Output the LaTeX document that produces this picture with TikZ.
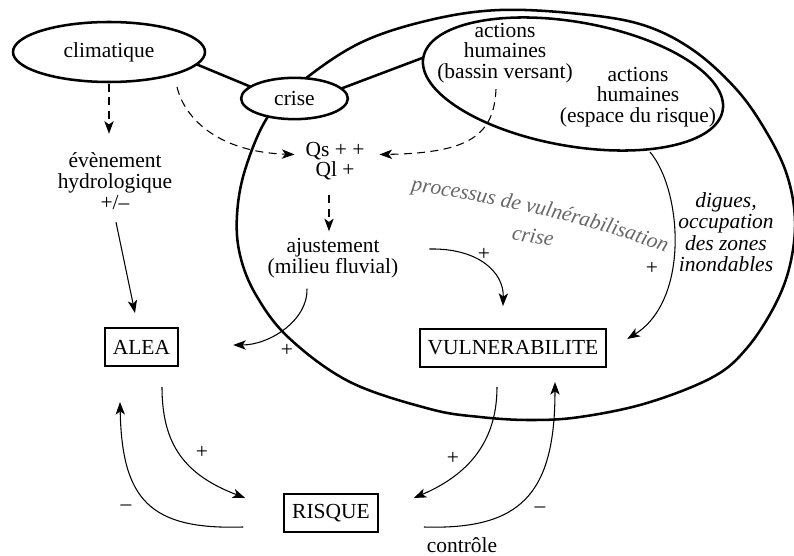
\documentclass[tikz,border=0pt]{standalone}
\usepackage{fontspec}
\setmainfont{Liberation Serif}
\usetikzlibrary{arrows.meta,shapes.geometric,calc,decorations.text}
\begin{document}
\begin{tikzpicture}[x=0.75pt,y=-0.75pt,
  every node/.style={font=\fontsize{16.1}{15.5}\selectfont, inner sep=0pt, outer sep=0pt},
  txt/.style={align=center},
  oval/.style={draw, ellipse, line width=1.9pt, inner sep=0pt},
  boxnode/.style={draw, line width=1.5pt, inner xsep=6pt, minimum height=28.5pt},
  thickline/.style={line width=1.9pt},
  arr/.style={line width=0.8pt, -{Stealth[length=9.5pt,width=7pt,inset=2.5pt]}},
  dasharr/.style={arr, dash pattern=on 6pt off 4pt},
  greytxt/.style={text=black!60, font=\fontsize{16.1}{15.5}\selectfont\itshape}
]
\useasboundingbox (0,0) rectangle (794,556);
% outer region
\draw[line width=1.9pt] plot[smooth cycle, tension=0.6] coordinates {
 (500,10) (580,14) (643,25) (693,50) (737,90) (767,133) (787,175) (795,220)
 (790,265) (775,305) (747,348) (713,377) (647,403) (580,417) (530,420) (480,417)
 (430,409) (350,382) (289,338) (256,295) (240,255) (237,215) (245,170) (267,118)
 (300,83) (360,43) (430,20)};
% nodes
\node[oval, minimum width=144pt, minimum height=45pt] (clim) at (109,52) {climatique};
\node[oval, fill=white, minimum width=80pt, minimum height=31pt] (crise) at (294.5,98.5) {crise};
\node[oval, minimum width=228pt, minimum height=93pt, rotate=-10] (inner) at (573,84) {};
\node[txt] (ah1) at (505,53) {actions\\humaines\\(bassin versant)};
\node[txt] (ah2) at (638,97) {actions\\humaines\\(espace du risque)};
\node[txt] (ev) at (115,181) {évènement\\hydrologique\\+/–};
\node[txt] (qs) at (335,161) {Qs + +\\Ql +};
\node[txt] (aj) at (333,258) {ajustement\\(milieu fluvial)};
\node[txt, font=\fontsize{16.1}{16.1}\selectfont\itshape] (dig) at (726,232) {digues,\\occupation\\des zones\\inondables};
\node[boxnode, minimum width=55pt] (alea) at (141.5,347) {ALEA};
\node[boxnode, minimum width=136.5pt] (vuln) at (513,348) {VULNERABILITE};
\node[boxnode, minimum width=67.5pt] (risque) at (331,513.5) {RISQUE};
\node (ctrl) at (462,545) {contrôle};
\node[greytxt, rotate=-9] (crise2) at (533,236) {crise};
\path[decorate, decoration={text along path, text align=center,
  text={|\fontsize{16.1}{15.5}\selectfont\itshape\color{black!60}|processus de vulnérabilisation}}]
  (404,190) .. controls (480,200) and (590,222) .. (672,255);
% signs
\node (p1) at (287,350) {+};
\node (p2) at (484,254) {+};
\node (p3) at (652,268) {+};
\node (p4) at (202,452) {+};
\node (m1) at (126,508) {–};
\node (p5) at (453,458) {+};
\node (m2) at (540,510) {–};
% connectors
\draw[thickline] (clim.-8) -- (crise.165);
\draw[thickline] (crise.12) -- (inner.west);
\draw[dasharr] ($(clim.south)+(0,2)$) -- ($(ev.north)+(-6,-19)$);
\draw[dasharr] ($(clim.south)+(68,5)$) .. controls (185,120) and (220,152) .. ($(qs.west)+(-11,-6.5)$);
\draw[dasharr] ($(ah1.south)+(-9,6)$) .. controls (494,135) and (470,153) .. ($(qs.east)+(15,-6.5)$);
\draw[dasharr] ($(qs.south)+(-6,15)$) -- ($(aj.north)+(-4,-7)$);
\draw[arr] ($(aj.south)+(-26,11)$) .. controls (308,320) and (270,345) .. ($(alea.east)+(55,-2)$);
\draw[arr] ($(aj.east)+(31,-9)$) .. controls (478,248) and (504,272) .. ($(vuln.north)+(-10,-23)$);
\draw[arr] ($(inner.center)+(77,68)$) .. controls (682,190) and (690,300) .. ($(vuln.east)+(21,-9)$);
\draw[arr] ($(ev.south)+(1,13)$) -- ($(alea.north)+(-6.5,-15)$);
\draw[arr] ($(alea.south)+(20.5,21)$) .. controls (162,445) and (185,475) .. ($(risque.west)+(-39,-15.5)$);
\draw[arr] ($(risque.west)+(-41,13.5)$) .. controls (150,530) and (122,500) .. ($(alea.south)+(-21.5,36)$);
\draw[arr] ($(vuln.south)+(-16,20)$) .. controls (497,435) and (475,472) .. ($(risque.east)+(36,-15.5)$);
\draw[arr] ($(risque.east)+(46,13.5)$) .. controls (520,530) and (555,495) .. ($(vuln.south)+(42,15)$);
\end{tikzpicture}
\end{document}
